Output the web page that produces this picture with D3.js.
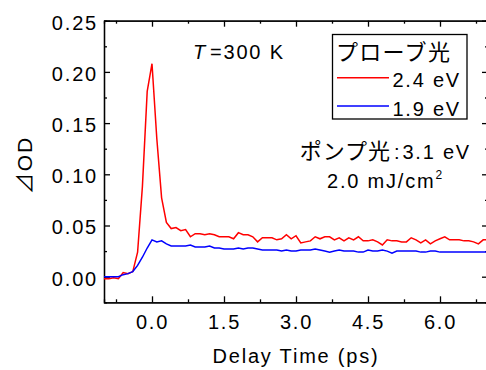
<!DOCTYPE html>
<html>
<head>
<meta charset="utf-8">
<script src="https://cdn.jsdelivr.net/npm/d3@7"></script>
<style>
  body { margin: 0; background: #fff; }
  text { font-family: "Liberation Sans", "Noto Sans CJK JP", sans-serif; fill: #000; }
  .jp { font-family: "Noto Sans CJK JP", sans-serif; }
  .axis path, .axis line { stroke: #000; stroke-width: 1.3; }
</style>
</head>
<body>
<div id="chart"></div>
<script>
// delay time (ps), shared by both probe series
const delayTime = [-1.0, -0.9, -0.8, -0.7, -0.6, -0.5, -0.4, -0.3, -0.2, -0.1,
  0.0, 0.1, 0.2, 0.3, 0.4, 0.5, 0.6, 0.7, 0.8, 0.9,
  1.0, 1.1, 1.2, 1.3, 1.4, 1.5, 1.6, 1.7, 1.8, 1.9,
  2.0, 2.1, 2.2, 2.3, 2.4, 2.5, 2.6, 2.7, 2.8, 2.9,
  3.0, 3.1, 3.2, 3.3, 3.4, 3.5, 3.6, 3.7, 3.8, 3.9,
  4.0, 4.1, 4.2, 4.3, 4.4, 4.5, 4.6, 4.7, 4.8, 4.9,
  5.0, 5.1, 5.2, 5.3, 5.4, 5.5, 5.6, 5.7, 5.8, 5.9,
  6.0, 6.1, 6.2, 6.3, 6.4, 6.5, 6.6, 6.7, 6.8, 6.9, 7.0]

// probe 2.4 eV (red)
const probe24 = [-0.002, -0.002, -0.001, -0.002, 0.004, 0.003, 0.005, 0.024, 0.088, 0.181,
  0.208, 0.135, 0.077, 0.053, 0.047, 0.048, 0.045, 0.046, 0.039, 0.042,
  0.042, 0.041, 0.042, 0.041, 0.039, 0.039, 0.039, 0.037, 0.043, 0.041,
  0.041, 0.039, 0.034, 0.038, 0.038, 0.038, 0.036, 0.037, 0.041, 0.037,
  0.040, 0.033, 0.034, 0.035, 0.039, 0.037, 0.039, 0.039, 0.036, 0.038,
  0.035, 0.038, 0.036, 0.039, 0.035, 0.035, 0.036, 0.034, 0.031, 0.036,
  0.035, 0.035, 0.034, 0.034, 0.038, 0.036, 0.033, 0.036, 0.032, 0.035,
  0.037, 0.039, 0.036, 0.036, 0.036, 0.035, 0.035, 0.034, 0.032, 0.036, 0.036]

// probe 1.9 eV (blue)
const probe19 = [0.000, 0.000, 0.000, 0.000, 0.002, 0.003, 0.005, 0.011, 0.019, 0.028,
  0.036, 0.034, 0.035, 0.032, 0.030, 0.030, 0.030, 0.030, 0.031, 0.029,
  0.029, 0.029, 0.030, 0.028, 0.028, 0.027, 0.027, 0.027, 0.028, 0.027,
  0.028, 0.028, 0.027, 0.026, 0.026, 0.026, 0.026, 0.025, 0.026, 0.025,
  0.025, 0.026, 0.026, 0.026, 0.027, 0.026, 0.025, 0.024, 0.025, 0.026,
  0.025, 0.025, 0.025, 0.024, 0.024, 0.026, 0.025, 0.025, 0.026, 0.025,
  0.023, 0.025, 0.025, 0.025, 0.025, 0.025, 0.024, 0.024, 0.025, 0.025,
  0.024, 0.024, 0.024, 0.024, 0.024, 0.024, 0.024, 0.024, 0.024, 0.024, 0.024]

const xMajor = [0, 1.5, 3.0, 4.5, 6.0]
const xMinor = [-0.75, 0.75, 2.25, 3.75, 5.25, 6.75]
const yMajor = [0, 0.05, 0.10, 0.15, 0.20, 0.25]
const yMinor = [0.025, 0.075, 0.125, 0.175, 0.225]

const width = 486
const height = 370
const margin = { top: 20.7, bottom: 67.7, left: 104, right: -2 }
const innerW = width - margin.left - margin.right
const innerH = height - margin.top - margin.bottom

const svg = d3.select("div#chart").append("svg").attr("width", width).attr("height", height)

const x = d3.scaleLinear().domain([-1, 7]).range([0, innerW])
const y = d3.scaleLinear().domain([-0.025, 0.25]).range([innerH, 0])

const g = svg.append("g").attr("transform", `translate(${margin.left},${margin.top})`)

g.append("clipPath").attr("id", "clip")
  .append("rect").attr("width", innerW).attr("height", innerH)

// axes: major + minor, ticks pointing inward, mirrored on top/right
function addAxis(axisFn, scale, major, minor, transform, labels) {
  const ag = g.append("g").attr("class", "axis").attr("transform", transform)
  ag.call(axisFn(scale).tickValues(minor).tickSize(-3).tickFormat(""))
  ag.selectAll(".tick text").remove()
  const bg = g.append("g").attr("class", "axis").attr("transform", transform)
  bg.call(axisFn(scale).tickValues(major).tickSizeInner(-6).tickSizeOuter(0)
    .tickPadding(axisFn === d3.axisBottom ? 13 : 6)
    .tickFormat(labels ? d3.format(axisFn === d3.axisBottom ? ".1f" : ".2f") : ""))
  bg.selectAll(".tick text")
    .style("font-size", "20px")
    .style("letter-spacing", "1.8px")
    .attr("fill", "#000")
  if (axisFn === d3.axisLeft) bg.selectAll(".tick text").attr("dy", "0.42em")
  if (!labels) bg.selectAll(".tick text").remove()
}
addAxis(d3.axisBottom, x, xMajor, xMinor, `translate(0,${innerH})`, true)
addAxis(d3.axisTop, x, xMajor, xMinor, `translate(0,0)`, false)
addAxis(d3.axisLeft, y, yMajor, yMinor, `translate(0,0)`, true)
addAxis(d3.axisRight, y, yMajor, yMinor, `translate(${innerW},0)`, false)

// data lines
const series = [
  { name: "2.4 eV", values: probe24, color: "#ff0000" },
  { name: "1.9 eV", values: probe19, color: "#0000ff" }
]
const line = d3.line()
  .x((d, i) => x(delayTime[i]))
  .y(d => y(d))

g.append("g").attr("clip-path", "url(#clip)")
  .selectAll(".line").data(series).enter()
  .append("path")
  .attr("class", "line")
  .attr("d", d => line(d.values))
  .style("fill", "none")
  .style("stroke", d => d.color)
  .style("stroke-width", 1.5)

// axis titles
svg.append("text")
  .attr("x", 296).attr("y", 363)
  .style("text-anchor", "middle")
  .style("font-size", "20px")
  .style("letter-spacing", "1.8px")
  .text("Delay Time (ps)")

svg.append("text")
  .attr("transform", "translate(32,165) rotate(-90)")
  .style("text-anchor", "middle")
  .style("font-size", "21px")
  .style("letter-spacing", "2px")
  .text("⊿OD")

// temperature
const tText = svg.append("text").attr("x", 193).attr("y", 59)
  .style("font-size", "20px").style("letter-spacing", "1.8px")
tText.append("tspan").style("font-style", "italic").text("T")
tText.append("tspan").attr("dx", 3).text("=300 K")

// legend
const legend = svg.append("g")
legend.append("rect")
  .attr("x", 332.5).attr("y", 34.5).attr("width", 134.5).attr("height", 84.5)
  .style("fill", "#fff").style("stroke", "#000").style("stroke-width", 1.3)
legend.append("text").attr("class", "jp")
  .attr("x", 336).attr("y", 60)
  .style("font-size", "22px").style("letter-spacing", "1.3px")
  .text("プローブ光")
const items = legend.selectAll(".item").data(series).enter()
  .append("g").attr("class", "item")
  .attr("transform", (d, i) => `translate(0,${77.7 + i * 28.3})`)
items.append("line")
  .attr("x1", 337).attr("x2", 389)
  .style("stroke", d => d.color).style("stroke-width", 1.5)
items.append("text")
  .attr("x", 461).attr("y", 9.5)
  .style("text-anchor", "end")
  .style("font-size", "20px").style("letter-spacing", "1.8px")
  .text(d => d.name)

// pump conditions
const pump = svg.append("text").attr("x", 471).attr("y", 159)
  .style("text-anchor", "end")
pump.append("tspan").attr("class", "jp").style("font-size", "22px").style("letter-spacing", "1px").text("ポンプ光")
pump.append("tspan").attr("dx", 3).style("font-size", "20px").style("letter-spacing", "1.8px").text(":")
pump.append("tspan").attr("dx", 1).style("font-size", "20px").style("letter-spacing", "1.8px").text("3.1 eV")

const fluence = svg.append("text").attr("x", 327).attr("y", 188)
  .style("font-size", "20px").style("letter-spacing", "1.8px")
fluence.append("tspan").text("2.0 mJ/cm")
fluence.append("tspan").attr("dy", -9).style("font-size", "12px").text("2")
</script>
</body>
</html>
